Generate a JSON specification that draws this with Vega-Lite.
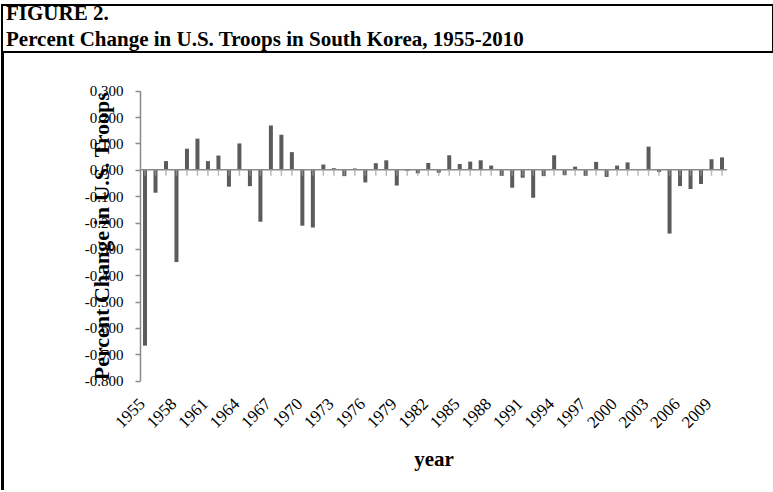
{
  "$schema": "https://vega.github.io/schema/vega-lite/v6.json",
  "padding": {"left": 1, "top": 1, "right": 1, "bottom": 0},
  "background": "white",
  "bounds": "flush",
  "spacing": 0,
  "config": {
    "view": {"stroke": null},
    "font": "Liberation Serif",
    "axis": {"grid": false, "labelFont": "Liberation Serif", "titleFont": "Liberation Serif", "labelColor": "black", "titleColor": "black", "labelOverlap": false, "labelFlush": false, "labelBound": false}
  },
  "vconcat": [
    {
      "width": 771,
      "height": 47,
      "view": {"stroke": "black", "strokeWidth": 2},
      "data": {"values": [
        {"line": 1, "label": "FIGURE 2."},
        {"line": 2, "label": "Percent Change in U.S. Troops in South Korea, 1955-2010"}
      ]},
      "mark": {"type": "text", "align": "left", "baseline": "alphabetic", "dx": 4, "font": "Liberation Serif", "fontSize": 21, "fontWeight": "bold", "color": "black"},
      "encoding": {
        "x": {"datum": 0, "type": "quantitative", "scale": {"domain": [0, 1]}, "axis": null},
        "y": {"field": "line", "type": "quantitative", "scale": {"domain": [0.423, 2.231], "reverse": true, "nice": false, "zero": false}, "axis": null},
        "text": {"field": "label"}
      }
    },
    {
      "bounds": "flush",
      "spacing": 137,
      "hconcat": [
        {
          "width": 1,
          "height": 437,
          "view": {"stroke": "black", "strokeWidth": 2},
          "data": {"values": []},
          "mark": "point"
        },
        {
          "width": 587,
          "height": 329,
          "data": {"values": [
            {"year": 1955, "change": -0.667}, {"year": 1956, "change": -0.087}, {"year": 1957, "change": 0.033},
            {"year": 1958, "change": -0.350}, {"year": 1959, "change": 0.080}, {"year": 1960, "change": 0.118},
            {"year": 1961, "change": 0.033}, {"year": 1962, "change": 0.054}, {"year": 1963, "change": -0.064},
            {"year": 1964, "change": 0.100}, {"year": 1965, "change": -0.062}, {"year": 1966, "change": -0.197},
            {"year": 1967, "change": 0.168}, {"year": 1968, "change": 0.133}, {"year": 1969, "change": 0.067},
            {"year": 1970, "change": -0.212}, {"year": 1971, "change": -0.219}, {"year": 1972, "change": 0.020},
            {"year": 1973, "change": 0.006}, {"year": 1974, "change": -0.024}, {"year": 1975, "change": 0.005},
            {"year": 1976, "change": -0.048}, {"year": 1977, "change": 0.025}, {"year": 1978, "change": 0.036},
            {"year": 1979, "change": -0.060}, {"year": 1980, "change": -0.004}, {"year": 1981, "change": -0.013},
            {"year": 1982, "change": 0.026}, {"year": 1983, "change": -0.011}, {"year": 1984, "change": 0.055},
            {"year": 1985, "change": 0.022}, {"year": 1986, "change": 0.031}, {"year": 1987, "change": 0.036},
            {"year": 1988, "change": 0.016}, {"year": 1989, "change": -0.023}, {"year": 1990, "change": -0.068},
            {"year": 1991, "change": -0.030}, {"year": 1992, "change": -0.106}, {"year": 1993, "change": -0.024},
            {"year": 1994, "change": 0.055}, {"year": 1995, "change": -0.020}, {"year": 1996, "change": 0.012},
            {"year": 1997, "change": -0.023}, {"year": 1998, "change": 0.030}, {"year": 1999, "change": -0.027},
            {"year": 2000, "change": 0.016}, {"year": 2001, "change": 0.028}, {"year": 2002, "change": 0.003},
            {"year": 2003, "change": 0.088}, {"year": 2004, "change": -0.008}, {"year": 2005, "change": -0.242},
            {"year": 2006, "change": -0.062}, {"year": 2007, "change": -0.073}, {"year": 2008, "change": -0.054},
            {"year": 2009, "change": 0.040}, {"year": 2010, "change": 0.047}
          ]},
          "encoding": {
            "x": {
              "field": "year", "type": "quantitative",
              "scale": {"domain": [1955, 2010], "nice": false, "zero": false},
              "axis": {
                "orient": "bottom",
                "values": [1955, 1958, 1961, 1964, 1967, 1970, 1973, 1976, 1979, 1982, 1985, 1988, 1991, 1994, 1997, 2000, 2003, 2006, 2009],
                "format": "d", "title": "year",
                "domain": false, "ticks": false, "labelAngle": 315, "labelAlign": "right", "labelBaseline": "middle",
                "labelPadding": 20, "labelOffset": -3, "labelFontSize": 17, "labelOverlap": false,
                "titleFontSize": 21, "titleFontWeight": "bold", "titlePadding": 18
              }
            }
          },
          "layer": [
            {
              "mark": {"type": "bar", "size": 4, "color": "#5b5b5b"},
              "encoding": {
                "y": {
                  "field": "change", "type": "quantitative",
                  "scale": {"domain": [-0.8, 0.3], "range": [328.7, 38.7], "nice": false, "zero": false},
                  "axis": {
                    "orient": "left",
                    "values": [-0.8, -0.7, -0.6, -0.5, -0.4, -0.3, -0.2, -0.1, 0, 0.1, 0.2, 0.3],
                    "labelExpr": "replace(format(datum.value, '.3f'), '−', '-')",
                    "title": "Percent Change in U.S. Troops",
                    "labelFontSize": 15, "labelPadding": 12, "labelOverlap": false,
                    "domainColor": "#8a8a8a", "domainWidth": 1.5,
                    "tickColor": "#8a8a8a", "tickWidth": 1.5, "tickSize": 5,
                    "titleFontSize": 22, "titleFontWeight": "bold", "titleX": -39, "titleBaseline": "middle"
                  }
                }
              }
            },
            {
              "transform": [{"filter": "datum.year == 1955"}],
              "mark": {"type": "rule", "color": "#8a8a8a", "strokeWidth": 1.5},
              "encoding": {
                "x": null,
                "y": {
                  "datum": 0, "type": "quantitative",
                  "axis": {
                    "orient": "left",
                    "values": [-0.8, -0.7, -0.6, -0.5, -0.4, -0.3, -0.2, -0.1, 0, 0.1, 0.2, 0.3],
                    "labelExpr": "replace(format(datum.value, '.3f'), '−', '-')",
                    "title": "Percent Change in U.S. Troops",
                    "labelFontSize": 15, "labelPadding": 12, "labelOverlap": false,
                    "domainColor": "#8a8a8a", "domainWidth": 1.5,
                    "tickColor": "#8a8a8a", "tickWidth": 1.5, "tickSize": 5,
                    "titleFontSize": 22, "titleFontWeight": "bold", "titleX": -39, "titleBaseline": "middle"
                  }
                }
              }
            },
            {
              "mark": {"type": "tick", "orient": "vertical", "size": 6, "thickness": 1.5, "yOffset": 3, "color": "#9c9c9c"},
              "encoding": {
                "y": {
                  "datum": 0, "type": "quantitative",
                  "axis": {
                    "orient": "left",
                    "values": [-0.8, -0.7, -0.6, -0.5, -0.4, -0.3, -0.2, -0.1, 0, 0.1, 0.2, 0.3],
                    "labelExpr": "replace(format(datum.value, '.3f'), '−', '-')",
                    "title": "Percent Change in U.S. Troops",
                    "labelFontSize": 15, "labelPadding": 12, "labelOverlap": false,
                    "domainColor": "#8a8a8a", "domainWidth": 1.5,
                    "tickColor": "#8a8a8a", "tickWidth": 1.5, "tickSize": 5,
                    "titleFontSize": 22, "titleFontWeight": "bold", "titleX": -39, "titleBaseline": "middle"
                  }
                }
              }
            }
          ]
        }
      ]
    }
  ]
}
